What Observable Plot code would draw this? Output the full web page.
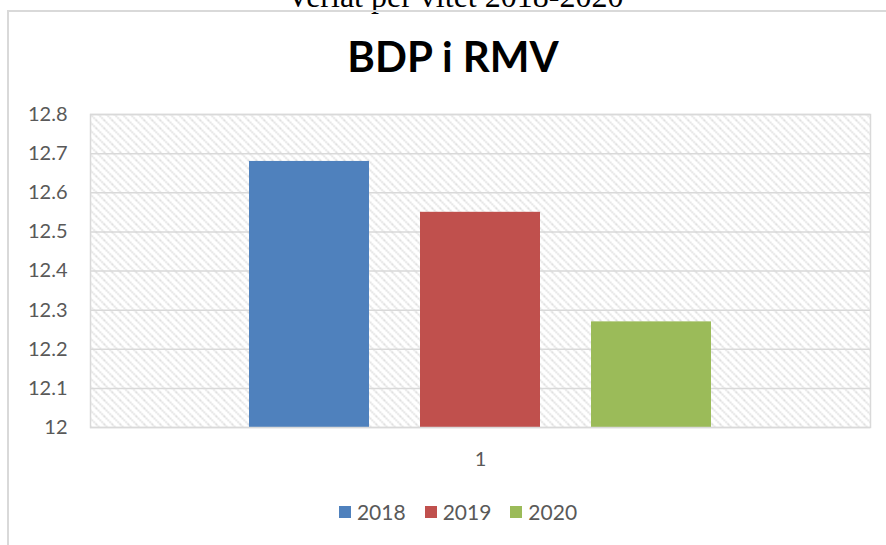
<!DOCTYPE html>
<html>
<head>
<meta charset="utf-8">
<script src="https://cdn.jsdelivr.net/npm/d3@7"></script>
<script src="https://cdn.jsdelivr.net/npm/@observablehq/plot@0.6"></script>
<style>
  html, body { margin: 0; padding: 0; background: #fff; }
  body { width: 886px; height: 545px; overflow: hidden; position: relative; font-family: Lato, "Open Sans", sans-serif; }
  #toptext { position: absolute; left: 0; width: 910px; top: -20px; text-align: center; font-family: "Liberation Serif", "Times New Roman", serif; font-size: 32px; line-height: 32px; color: #000; white-space: nowrap; }
  #box { position: absolute; left: 7px; top: 10px; width: 900px; height: 560px; border: 2px solid #d9d9d9; box-sizing: border-box; }
  #title { position: absolute; left: 0; width: 906px; top: 33px; text-align: center; font-family: Lato, sans-serif; font-weight: bold; font-size: 42px; line-height: 46px; color: #000; }
  #chart { position: absolute; left: 0; top: 0; }
  #legend { position: absolute; left: 0; width: 916px; top: 499px; display: flex; justify-content: center; gap: 19px; font-size: 21px; color: #595959; }
  #legend .item { display: flex; align-items: center; gap: 6px; }
  #legend .sw { width: 12px; height: 12px; display: inline-block; }
</style>
</head>
<body>
<div id="toptext">Veriat per vitet 2018-2020</div>
<div id="box"></div>
<div id="title">BDP i RMV</div>
<div id="chart"></div>
<div id="legend"></div>
<script>
const category = ["1"];
const years = ["2018", "2019", "2020"];
const values = [12.68, 12.55, 12.27];
const colors = ["#4F81BD", "#C0504D", "#9BBB59"];
const yTicks = [12, 12.1, 12.2, 12.3, 12.4, 12.5, 12.6, 12.7, 12.8];

const data = years.map((y, i) => ({cat: category[0], year: y, value: values[i]}));

const plot = Plot.plot({
  width: 886,
  height: 480,
  marginLeft: 90,
  marginRight: 16,
  marginTop: 114,
  marginBottom: 53,
  style: {background: "transparent", fontFamily: "Lato, sans-serif", fontSize: "20px", color: "#595959"},
  fx: {domain: category, padding: 0, axis: "bottom", tickSize: 0, tickPadding: 24, label: null},
  x: {domain: years, paddingInner: 0.298, paddingOuter: 0.924, axis: null},
  y: {domain: [12, 12.8], ticks: yTicks, tickSize: 0, tickPadding: 23, label: null, tickFormat: d => String(+d.toFixed(1))},
  color: {domain: years, range: colors},
  marks: [
    Plot.frame({fill: "url(#hatch)", stroke: null}),
    Plot.ruleY(yTicks, {stroke: "#d9d9d9", strokeWidth: 1.5, strokeOpacity: 1}),
    Plot.barY(data, {fx: "cat", x: "year", y1: () => 12, y2: "value", fill: "year"}),
    Plot.frame({stroke: "#d9d9d9", strokeWidth: 1.5, strokeOpacity: 1})
  ]
});

const svg = d3.select(plot);
const defs = svg.insert("defs", ":first-child");
const pat = defs.append("pattern")
  .attr("id", "hatch")
  .attr("patternUnits", "userSpaceOnUse")
  .attr("width", 8).attr("height", 8);
pat.append("rect").attr("width", 8).attr("height", 8).attr("fill", "#fff");
pat.append("path").attr("d", "M-2,-2 L10,10 M-2,6 L2,10 M6,-2 L10,2")
  .attr("stroke", "#d6d6d6").attr("stroke-width", 1.6).attr("stroke-dasharray", "1.5,1");
svg.selectAll("g[aria-label='y-axis tick label'] text, g[aria-label='fx-axis tick label'] text").attr("fill", "#595959");

document.getElementById("chart").appendChild(plot);

const legend = document.getElementById("legend");
years.forEach((y, i) => {
  const it = document.createElement("div");
  it.className = "item";
  const sw = document.createElement("span");
  sw.className = "sw";
  sw.style.background = colors[i];
  const t = document.createElement("span");
  t.textContent = y;
  it.appendChild(sw); it.appendChild(t);
  legend.appendChild(it);
});
</script>
</body>
</html>
